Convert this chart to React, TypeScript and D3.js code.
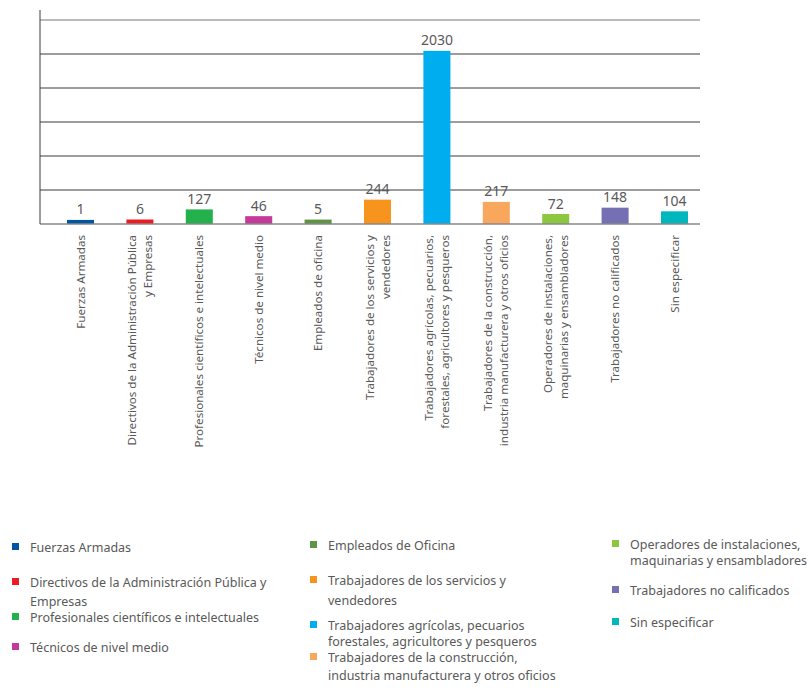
import React from 'react';
import * as d3 from 'd3';

// Axis labels (line breaks as in the chart)
const categories: string[][] = [
  ['Fuerzas Armadas'],
  ['Directivos de la Administración Pública', 'y Empresas'],
  ['Profesionales científicos e intelectuales'],
  ['Técnicos de nivel medio'],
  ['Empleados de oficina'],
  ['Trabajadores de los servicios y', 'vendedores'],
  ['Trabajadores agrícolas, pecuarios,', 'forestales, agricultores y pesqueros'],
  ['Trabajadores de la construcción,', 'industria manufacturera y otros oficios'],
  ['Operadores de instalaciones,', 'maquinarias y ensambladores'],
  ['Trabajadores no calificados'],
  ['Sin especificar'],
];

const values: number[] = [1, 6, 127, 46, 5, 244, 2030, 217, 72, 148, 104];

const colors: string[] = [
  '#0055a5', '#ed1c24', '#22b14c', '#c4399a', '#5e9444', '#f7941d',
  '#00aeef', '#f9a75c', '#8dc63f', '#7570b3', '#00b7bd',
];

const legendLabels: string[][] = [
  ['Fuerzas Armadas'],
  ['Directivos de la Administración Pública y', 'Empresas'],
  ['Profesionales científicos e intelectuales'],
  ['Técnicos de nivel medio'],
  ['Empleados de Oficina'],
  ['Trabajadores de los servicios y', 'vendedores'],
  ['Trabajadores agrícolas, pecuarios', 'forestales, agricultores y pesqueros'],
  ['Trabajadores de la construcción,', 'industria manufacturera y otros oficios'],
  ['Operadores de instalaciones,', 'maquinarias y ensambladores'],
  ['Trabajadores no calificados'],
  ['Sin especificar'],
];

// legend layout: column x, first baseline, line gap
const legendCols = [12, 310, 612];
const legendPlace = [
  { col: 0, y: 552, lh: 19 },
  { col: 0, y: 587, lh: 19 },
  { col: 0, y: 622, lh: 19 },
  { col: 0, y: 652, lh: 19 },
  { col: 1, y: 550, lh: 19 },
  { col: 1, y: 585, lh: 20 },
  { col: 1, y: 630, lh: 16 },
  { col: 1, y: 662, lh: 18 },
  { col: 2, y: 549, lh: 16 },
  { col: 2, y: 595, lh: 16 },
  { col: 2, y: 627, lh: 16 },
];

const W = 809;
const H = 690;
const FONT = '"Noto Sans", sans-serif';
const TEXT = '#595959';

export default function App() {
  const x = d3.scaleBand<number>()
    .domain(d3.range(values.length))
    .range([50.8, 704.2])
    .paddingInner(0.545)
    .paddingOuter(0.2725);

  const y = d3.scaleLinear().domain([-48, 2400]).range([224, 20]);
  const grid = d3.scaleLinear().domain([0, 6]).range([224, 20]);
  const base = y(-48);

  return (
    <svg width={W} height={H} style={{ position: 'absolute', left: 0, top: 0, background: '#fff' }} fontFamily={FONT}>
      {/* gridlines */}
      {d3.range(1, 7).map(i => (
        <line key={i} x1={40} x2={700} y1={grid(i)} y2={grid(i)}
          stroke={i === 6 ? '#777' : '#3a3a3a'} strokeWidth={1} />
      ))}
      {/* bars */}
      {values.map((v, i) => (
        <rect key={i} x={x(i)} width={x.bandwidth()} y={y(v)} height={base - y(v)} fill={colors[i]} />
      ))}
      {/* baseline and y axis */}
      <line x1={40} x2={700} y1={base} y2={base} stroke="#888" strokeWidth={1.5} />
      <line x1={40} x2={40} y1={10} y2={base} stroke="#3a3a3a" strokeWidth={1} />
      {/* value labels */}
      {values.map((v, i) => (
        <text key={i} x={x(i)! + x.bandwidth() / 2} y={y(v) - 5.5} textAnchor="middle"
          fontSize={14} fill={TEXT}>{v}</text>
      ))}
      {/* category labels */}
      {categories.map((lines, i) => {
        const cx = x(i)! + x.bandwidth() / 2;
        const lh = 16;
        const first = 4 - ((lines.length - 1) * lh) / 2;
        return (
          <text key={i} transform={`translate(${cx},235) rotate(-90)`} textAnchor="end"
            fontSize={11.6} fill={TEXT}>
            {lines.map((l, j) => (
              <tspan key={j} x={0} y={first + j * lh}>{l}</tspan>
            ))}
          </text>
        );
      })}
      {/* legend */}
      {legendLabels.map((lines, i) => {
        const p = legendPlace[i];
        const lx = legendCols[p.col];
        return (
          <g key={i}>
            <rect x={lx} y={p.y - 9} width={7} height={7} fill={colors[i]} />
            <text fontSize={12.5} fill={TEXT}>
              {lines.map((l, j) => (
                <tspan key={j} x={lx + 18} y={p.y + j * p.lh}>{l}</tspan>
              ))}
            </text>
          </g>
        );
      })}
    </svg>
  );
}
